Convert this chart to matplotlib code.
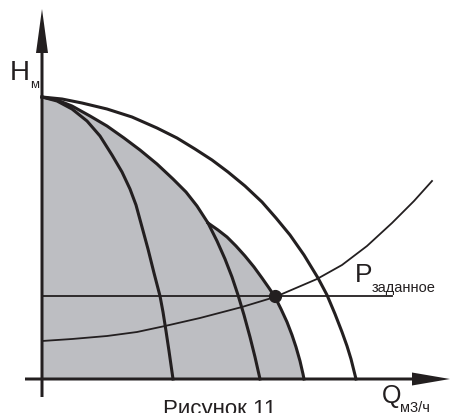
import matplotlib
matplotlib.use("Agg")
import matplotlib.pyplot as plt

plt.rcParams['font.family'] = ['Liberation Sans', 'DejaVu Sans']

ink = '#231f20'
fill_grey = '#bdbec2'

# pump curves (Q, H), arbitrary units
q1 = [0, 15, 30, 45, 58, 70, 80, 88, 94, 100, 106, 112, 118, 121, 124, 127, 131]
h1 = [282, 278, 270, 258, 243, 224, 207, 190, 174, 152, 130, 106, 83, 67, 48, 28, 0]

q2 = [0, 15, 30, 48, 65, 82, 98, 115, 131, 144, 155, 166,
      175, 183, 190, 196, 202, 208, 213, 218]
h2 = [282, 279, 273, 263, 253, 241, 229, 215, 200, 187, 173, 156,
      138, 120, 102, 84, 64, 42, 22, 0]
kink = 11  # where the limit curve leaves curve 2

# limit (max power) curve
q3 = [166, 176, 185, 194, 203, 212, 220, 227, 233, 239, 245, 250, 254, 258, 261, 262]
h3 = [156, 149, 142, 133, 123, 112, 101, 91, 82, 70, 57, 44, 32, 18, 5, 0]

q4 = [0, 20, 40, 65, 90, 115, 135, 153, 170, 186, 203, 220, 234, 248,
      262, 276, 285, 293, 300, 305, 309, 313, 314]
h4 = [282, 280, 276, 270, 262, 251, 241, 230, 219, 207, 193, 177, 161, 144,
      124, 101, 84, 65, 47, 33, 20, 4, 0]

# system curve
qs = [0, 30, 65, 95, 123, 158, 200, 233, 275, 300, 325, 350, 372, 390]
hs = [38, 40, 43, 47, 53, 61, 72, 82, 100, 114, 133, 156, 178, 198]

q_op, h_op = 233, 83
q_line_end = 350

fig = plt.figure(figsize=(4.53, 4.14), dpi=100)
ax = fig.add_axes([0, 0, 1, 1])
ax.set_xlim(-42, 411)
ax.set_ylim(-34, 380)
ax.axis('off')

# grey working area
fq = [0] + q2[:kink + 1] + q3[1:]
fh = [0] + h2[:kink + 1] + h3[1:]
ax.fill(fq, fh, color=fill_grey, lw=0, zorder=1)

lw = 2.2
for q, h in [(q1, h1), (q2, h2), (q3, h3), (q4, h4)]:
    ax.plot(q, h, color=ink, lw=lw, solid_joinstyle='round', zorder=3)

ax.plot(qs, hs, color=ink, lw=1.3, solid_joinstyle='round', zorder=3)
ax.plot([0, q_line_end], [h_op, h_op], color=ink, lw=1.3, zorder=3)
ax.plot([q_op], [h_op], 'o', color=ink, ms=8.5, zorder=5)

# axes with arrows
ax.arrow(0, -18, 0, 388, width=3, head_width=12, head_length=44,
         length_includes_head=True, color=ink, lw=0, zorder=4)
ax.arrow(-17, 0, 425, 0, width=3, head_width=13, head_length=38,
         length_includes_head=True, color=ink, lw=0, zorder=4)

ax.text(-32, 300, 'H', fontsize=20, color=ink, ha='left', va='baseline')
ax.text(-12, 292, 'м', fontsize=9.5, color=ink, ha='left', va='baseline')
ax.text(340, -23, 'Q', fontsize=18, color=ink, ha='left', va='baseline')
ax.text(358, -32, 'м3/ч', fontsize=10.5, color=ink, ha='left', va='baseline')
ax.text(313, 98, 'P', fontsize=19, color=ink, ha='left', va='baseline')
ax.text(330, 88, 'заданное', fontsize=10.5, color=ink, ha='left', va='baseline')
ax.text(121, -35, 'Рисунок 11', fontsize=16, color=ink, ha='left', va='baseline')

fig.savefig('out.png', dpi=100, facecolor='white')
